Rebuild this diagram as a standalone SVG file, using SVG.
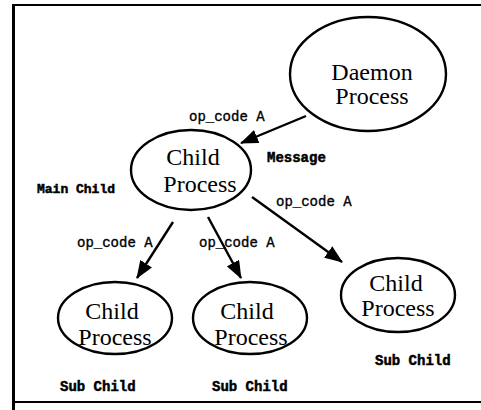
<svg xmlns="http://www.w3.org/2000/svg" width="481" height="410" viewBox="0 0 481 410">
<defs>
<marker id="ah" viewBox="0 0 18 14" refX="17" refY="7" markerWidth="18" markerHeight="14" markerUnits="userSpaceOnUse" orient="auto">
<path d="M0,0 L18,7 L0,14 Z" fill="#000"/>
</marker>
<style>
.node{fill:#fff;stroke:#000;stroke-width:2.4}
.nt{font-family:"Liberation Serif","Times New Roman",serif;font-size:24px;fill:#000;text-anchor:middle}
.lbl{font-family:"Liberation Mono","Courier New",monospace;font-size:14px;fill:#000;stroke:#000;stroke-width:0.35}
.b{font-weight:bold;stroke-width:0.5}
.conn{stroke:#000;stroke-width:2.4;fill:none;marker-end:url(#ah)}
.frame{stroke:#000;fill:none}
</style>
</defs>
<rect width="481" height="410" fill="#fff"/>
<g id="frame">
<line class="frame" x1="12" y1="5" x2="481" y2="5" stroke-width="2"/>
<line class="frame" x1="13.5" y1="4" x2="13.5" y2="410" stroke-width="3"/>
<line class="frame" x1="13" y1="402" x2="481" y2="402" stroke-width="2"/>
</g>
<g id="connectors">
<line class="conn" x1="306" y1="116" x2="241" y2="143"/>
<line class="conn" x1="173" y1="222" x2="137" y2="278"/>
<line class="conn" x1="208" y1="217" x2="241" y2="278"/>
<line class="conn" x1="252" y1="197" x2="342" y2="262"/>
</g>
<g id="daemon">
<ellipse class="node" cx="368" cy="74" rx="78" ry="57"/>
<text class="nt" x="372" y="80">Daemon</text>
<text class="nt" x="372" y="104">Process</text>
</g>
<g id="main-child">
<ellipse class="node" cx="191" cy="170" rx="60" ry="40"/>
<text class="nt" x="193" y="165">Child</text>
<text class="nt" x="200" y="192">Process</text>
</g>
<g id="sub-child-1">
<ellipse class="node" cx="115" cy="318" rx="57" ry="36"/>
<text class="nt" x="112" y="319">Child</text>
<text class="nt" x="115" y="345">Process</text>
</g>
<g id="sub-child-2">
<ellipse class="node" cx="250" cy="318" rx="57" ry="36"/>
<text class="nt" x="247" y="319">Child</text>
<text class="nt" x="251" y="345">Process</text>
</g>
<g id="sub-child-3">
<ellipse class="node" cx="398" cy="295" rx="57" ry="37"/>
<text class="nt" x="396" y="291">Child</text>
<text class="nt" x="398" y="316">Process</text>
</g>
<g id="labels">
<text class="lbl" x="189" y="121">op_code A</text>
<text class="lbl b" x="267" y="162">Message</text>
<text class="lbl b" x="37" y="193" style="font-size:13px">Main Child</text>
<text class="lbl" x="276" y="206">op_code A</text>
<text class="lbl" x="77" y="247">op_code A</text>
<text class="lbl" x="199" y="247">op_code A</text>
<text class="lbl b" x="60" y="391">Sub Child</text>
<text class="lbl b" x="212" y="391">Sub Child</text>
<text class="lbl b" x="375" y="365">Sub Child</text>
</g>
</svg>
